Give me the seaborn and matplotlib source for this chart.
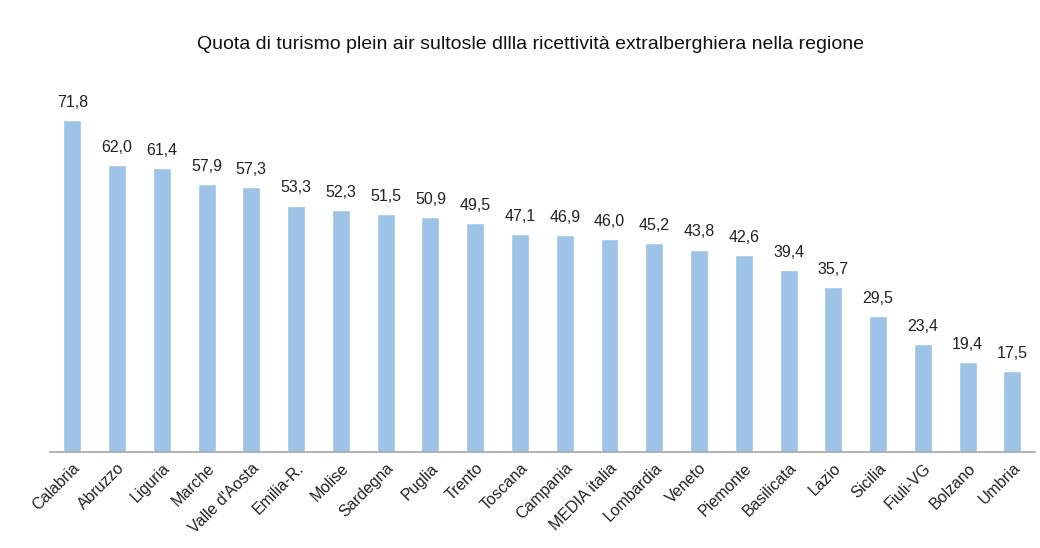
import matplotlib
matplotlib.use("Agg")
import matplotlib.pyplot as plt
import seaborn as sns
import pandas as pd

# dati
regioni = ["Calabria", "Abruzzo", "Liguria", "Marche", "Valle d'Aosta", "Emilia-R.",
           "Molise", "Sardegna", "Puglia", "Trento", "Toscana", "Campania",
           "MEDIA italia", "Lombardia", "Veneto", "Piemonte", "Basilicata", "Lazio",
           "Sicilia", "Fiuli-VG", "Bolzano", "Umbria"]
quota = [71.8, 62.0, 61.4, 57.9, 57.3, 53.3, 52.3, 51.5, 50.9, 49.5, 47.1, 46.9,
         46.0, 45.2, 43.8, 42.6, 39.4, 35.7, 29.5, 23.4, 19.4, 17.5]

df = pd.DataFrame({"Regione": regioni, "Quota": quota})

sns.set_style("white")
plt.rcParams["font.family"] = ["Liberation Sans", "DejaVu Sans"]

fig = plt.figure(figsize=(10.4, 5.48), dpi=100)
ax = fig.add_axes([0.048, 0.175, 0.947, 0.675])

sns.barplot(data=df, x="Regione", y="Quota", color="#9DC3E6", width=0.4,
            saturation=1, ax=ax)

for i, v in enumerate(quota):
    ax.text(i, v + 2.2, f"{v:.1f}".replace(".", ","), ha="center", va="bottom",
            fontsize=11.5, color="#222222")

ax.set_xlim(-0.5, len(regioni) - 0.5)
ax.set_ylim(0, 80)
ax.set_xlabel("")
ax.set_ylabel("")
ax.set_yticks([])
for s in ["top", "right", "left"]:
    ax.spines[s].set_visible(False)
ax.spines["bottom"].set_color("#a6a6a6")
ax.spines["bottom"].set_linewidth(1.2)
ax.tick_params(axis="x", length=0, pad=6)
plt.setp(ax.get_xticklabels(), rotation=45, ha="right", rotation_mode="anchor",
         fontsize=11.5, color="#222222")

fig.text(0.51, 0.918, "Quota di turismo plein air sultosle dllla ricettività extralberghiera nella regione",
         ha="center", va="center", fontsize=14, color="#111111")

fig.savefig("out.png", dpi=100)
